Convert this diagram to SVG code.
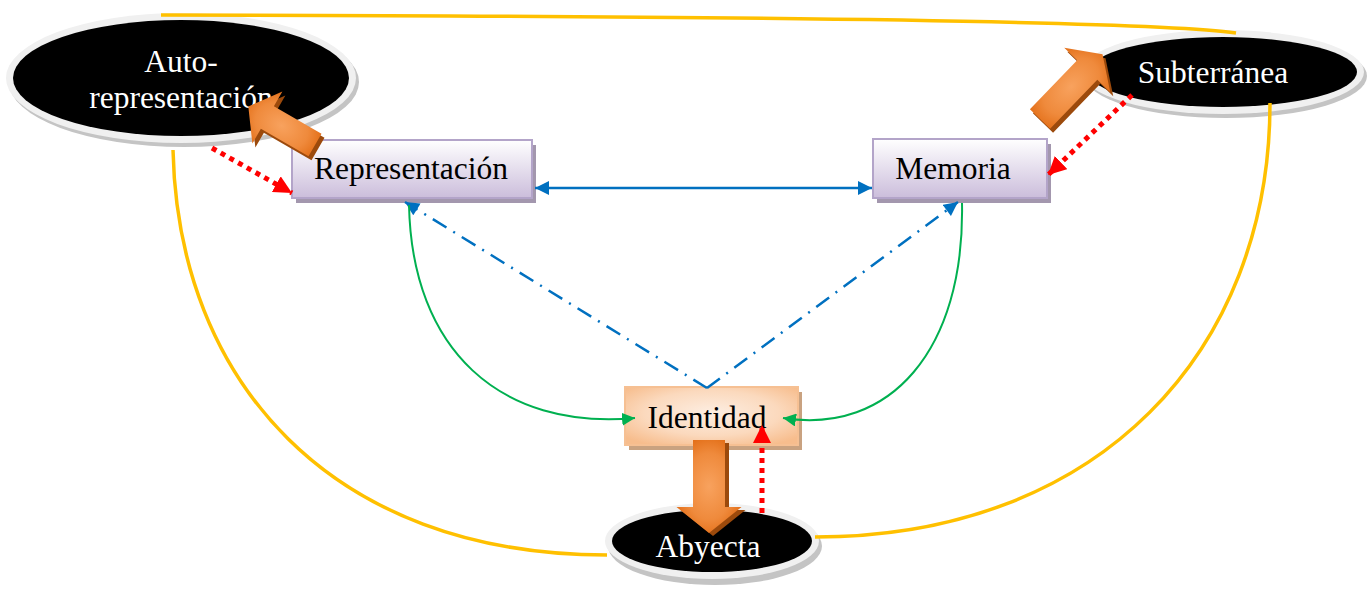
<svg xmlns="http://www.w3.org/2000/svg" width="1371" height="596" viewBox="0 0 1371 596">
<defs>
<style>
.txt{font-family:"Liberation Serif","Times New Roman",serif;font-size:31.5px;text-anchor:middle}
.wt{fill:#ffffff}
.bk{fill:#000000}
.ring{fill:#f0f0f0}
.shd{fill:#c4c4c4}
.yl{fill:none;stroke:#ffc000;stroke-width:3.5}
.bl{fill:none;stroke:#0070c0;stroke-width:2.5}
.bd{fill:none;stroke:#0070c0;stroke-width:2.5;stroke-dasharray:16 8 2 8}
.gr{fill:none;stroke:#00b050;stroke-width:2}
.rd{fill:none;stroke:#ff0000;stroke-width:5;stroke-dasharray:5 5}
.oa{fill:url(#og)}
.os{fill:#9c4a0c}
</style>
<linearGradient id="pg" x1="0" y1="0" x2="0" y2="1">
<stop offset="0" stop-color="#ffffff"/>
<stop offset="1" stop-color="#cbbddb"/>
</linearGradient>
<radialGradient id="ig" cx="0.5" cy="0.45" r="0.65">
<stop offset="0" stop-color="#fdeee2"/>
<stop offset="0.6" stop-color="#fbd9bd"/>
<stop offset="1" stop-color="#f7bd8d"/>
</radialGradient>
<radialGradient id="og" cx="0.5" cy="0.5" r="0.6">
<stop offset="0" stop-color="#f8a25e"/>
<stop offset="0.6" stop-color="#ef8a3c"/>
<stop offset="1" stop-color="#e0680f"/>
</radialGradient>
<marker id="ba" viewBox="0 0 10 10" refX="10" refY="5" markerWidth="15" markerHeight="14" markerUnits="userSpaceOnUse" orient="auto-start-reverse"><path d="M0,0 L10,5 L0,10 z" fill="#0070c0"/></marker>
<marker id="ga" viewBox="0 0 10 10" refX="10" refY="5" markerWidth="13" markerHeight="13" markerUnits="userSpaceOnUse" orient="auto"><path d="M0,0 L10,5 L0,10 z" fill="#00b050"/></marker>
<marker id="ra" viewBox="0 0 10 10" refX="10" refY="5" markerWidth="18" markerHeight="18" markerUnits="userSpaceOnUse" orient="auto"><path d="M0,0 L10,5 L0,10 z" fill="#ff0000"/></marker>
</defs>
<rect width="1371" height="596" fill="#ffffff"/>

<g id="node-autorepresentacion">
<ellipse class="shd" cx="184" cy="82" rx="175" ry="65"/>
<ellipse class="ring" cx="181" cy="78" rx="175" ry="65"/>
<ellipse class="bk" cx="181" cy="78" rx="168" ry="58"/>
<text class="txt wt" x="181" y="72">Auto-</text>
<text class="txt wt" x="181" y="108">representación</text>
</g>

<g id="node-subterranea">
<ellipse class="shd" cx="1226" cy="76" rx="141" ry="42"/>
<ellipse class="ring" cx="1223" cy="72" rx="141" ry="42"/>
<ellipse class="bk" cx="1223" cy="72" rx="134" ry="35"/>
<text class="txt wt" x="1213" y="83">Subterránea</text>
</g>

<g id="node-abyecta">
<ellipse class="shd" cx="715" cy="546" rx="107" ry="39"/>
<ellipse class="ring" cx="712" cy="541" rx="107" ry="38"/>
<ellipse class="bk" cx="712" cy="541" rx="100" ry="31"/>
<text class="txt wt" x="708" y="557">Abyecta</text>
</g>

<g id="node-representacion">
<rect x="296" y="145" width="240" height="58" fill="#a397ae"/>
<rect x="292" y="140" width="240" height="58" fill="url(#pg)" stroke="#b3a4c9" stroke-width="2"/>
<text class="txt bk" x="411" y="179">Representación</text>
</g>

<g id="node-memoria">
<rect x="877" y="144" width="174" height="59" fill="#a397ae"/>
<rect x="873" y="139" width="174" height="59" fill="url(#pg)" stroke="#b3a4c9" stroke-width="2"/>
<text class="txt bk" x="953" y="179">Memoria</text>
</g>

<g id="node-identidad">
<rect x="629" y="392" width="173" height="58" fill="#c9a280"/>
<rect x="625" y="387" width="173" height="58" fill="url(#ig)" stroke="#f6c093" stroke-width="2"/>
<text class="txt bk" x="707" y="428">Identidad</text>
</g>

<g id="connectors">
<path class="yl" d="M161,15 C700,16 1150,20 1236,33"/>
<path class="yl" d="M173,150 C178,380 330,555 607,555"/>
<path class="yl" d="M1270,103 C1270,350 1100,537 815,537"/>

<path class="bl" d="M535,188 L872,188" marker-start="url(#ba)" marker-end="url(#ba)"/>
<path class="bd" d="M707,388 L405,202" marker-end="url(#ba)"/>
<path class="bd" d="M707,388 L958,202" marker-end="url(#ba)"/>

<path class="gr" d="M409,205 C412,350 500,430 635,418" marker-end="url(#ga)"/>
<path class="gr" d="M962,203 C965,350 890,435 783,418" marker-end="url(#ga)"/>

<path class="rd" d="M212,148 L292,193" marker-end="url(#ra)"/>
<path class="rd" d="M1132,95 L1048,175" marker-end="url(#ra)"/>
<path class="rd" d="M762,513 L762,425" marker-end="url(#ra)"/>

<g id="block-arrow-rep-auto">
<g transform="translate(318,149) rotate(210)"><polygon class="os" points="0,-13 55,-13 55,-30 77,0 55,30 55,13 0,13"/></g>
<g transform="translate(315,145) rotate(210)"><polygon class="oa" points="0,-13 55,-13 55,-30 77,0 55,30 55,13 0,13"/></g>
</g>
<g id="block-arrow-mem-sub">
<g transform="translate(1043,123) rotate(-46)"><polygon class="os" points="0,-14 68,-14 68,-32 90,0 68,32 68,14 0,14"/></g>
<g transform="translate(1040,119) rotate(-46)"><polygon class="oa" points="0,-14 68,-14 68,-32 90,0 68,32 68,14 0,14"/></g>
</g>
<g id="block-arrow-ide-aby">
<g transform="translate(713,443) rotate(90)"><polygon class="os" points="0,-16 67,-16 67,-32.5 93,0 67,32.5 67,16 0,16"/></g>
<g transform="translate(709,440) rotate(90)"><polygon class="oa" points="0,-16 67,-16 67,-32.5 93,0 67,32.5 67,16 0,16"/></g>
</g>
</g>
</svg>
